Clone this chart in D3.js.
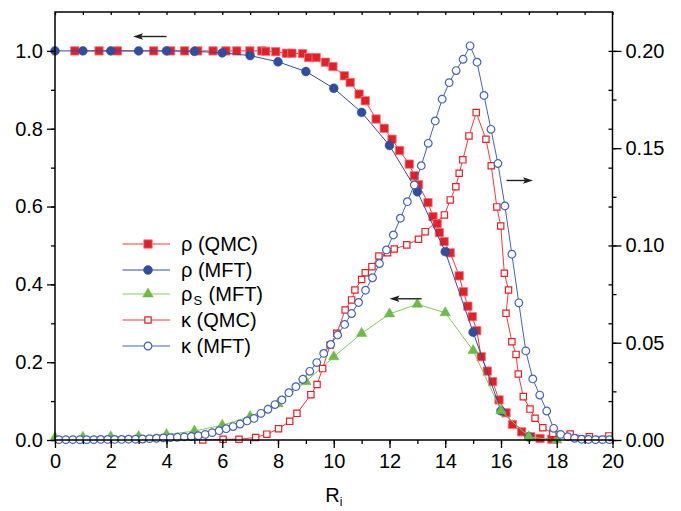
<!DOCTYPE html>
<html>
<head>
<meta charset="utf-8">
<script src="https://cdn.jsdelivr.net/npm/d3@7"></script>
<style>
  html, body { margin: 0; padding: 0; background: #fff; }
  svg { display: block; font-family: "Liberation Sans", Arial, sans-serif; }
</style>
</head>
<body>
<svg id="chart" width="681" height="511"></svg>
<script>
// ---- data -------------------------------------------------------------
// density from QMC (left axis)
const rhoQmcR = [0.71, 1.58, 2.24, 3.54, 4.15, 4.65, 5.12, 5.67, 6.13, 6.52, 6.99, 7.42, 7.56, 7.92,
  8.3, 8.5, 8.88, 9.1, 9.37, 9.7, 9.97, 10.38, 10.59, 10.91, 11.13, 11.52, 11.81, 12.09, 12.36,
  12.71, 12.89, 13.04, 13.38, 13.56, 13.71, 13.79, 13.96, 14.18, 14.5, 14.65, 14.81, 14.97, 15.13,
  15.29, 15.51, 15.7, 15.93, 16.18, 16.41, 16.74, 17.07, 17.4, 17.82];
const rhoQmc = [1.0, 1.0, 1.0, 1.0, 1.0, 1.0, 1.0, 1.0, 1.0, 1.0, 1.0, 1.0, 0.999, 0.998,
  0.994, 0.994, 0.993, 0.983, 0.983, 0.971, 0.96, 0.936, 0.919, 0.889, 0.872, 0.825, 0.801, 0.773, 0.744,
  0.709, 0.679, 0.656, 0.61, 0.574, 0.556, 0.533, 0.51, 0.481, 0.422, 0.381, 0.344, 0.317, 0.281,
  0.214, 0.177, 0.15, 0.103, 0.07, 0.04, 0.021, 0.0085, 0.004, 0.002];

// density from mean-field theory (left axis)
const rhoMftR = [0, 1, 2, 3, 4, 5, 6, 7, 8, 9, 10, 11, 12, 13, 14, 15, 16, 17];
const rhoMft = [1.0, 1.0, 1.0, 1.0, 1.0, 0.999, 0.995, 0.988, 0.972, 0.947, 0.904, 0.842,
  0.757, 0.638, 0.484, 0.277, 0.075, 0.008];

// superfluid density from mean-field theory (left axis)
const rhoSMftR = [0, 1, 2, 3, 4, 5, 6, 7, 8, 9, 10, 11, 12, 13, 14, 15, 16, 17, 18];
const rhoSMft = [0.006, 0.007, 0.008, 0.009, 0.014, 0.023, 0.038, 0.06, 0.093, 0.15, 0.214,
  0.274, 0.324, 0.349, 0.327, 0.23, 0.075, 0.008, 0.0];

// compressibility from QMC (right axis)
const kappaQmcR = [5.3, 6.03, 6.6, 7.2, 7.6, 8.02, 8.42, 8.68, 9.18, 9.4, 9.6, 9.87, 10.11, 10.41,
  10.64, 10.76, 11.0, 11.13, 11.37, 11.62, 11.93, 12.17, 12.62, 13.04, 13.28, 13.97, 14.18, 14.38,
  14.5, 14.63, 14.85, 15.11, 15.46, 15.65, 15.85, 15.99, 16.12, 16.27, 16.18, 16.39, 16.54, 16.62,
  16.8, 17.04, 17.22, 17.5, 17.86, 18.48, 19.17, 19.87];
const kappaQmc = [0.0, 0.0004, 0.0004, 0.0013, 0.003, 0.0058, 0.0096, 0.0137, 0.0233, 0.0285,
  0.0367, 0.0488, 0.0549, 0.0668, 0.072, 0.0771, 0.0825, 0.086, 0.0891, 0.0946, 0.0963, 0.0982,
  0.1003, 0.1032, 0.1071, 0.1157, 0.1234, 0.1302, 0.1371, 0.144, 0.1563, 0.1683, 0.1546, 0.141,
  0.1198, 0.11, 0.0857, 0.0771, 0.0651, 0.0505, 0.044, 0.0339, 0.0223, 0.0159, 0.0112, 0.0063,
  0.0034, 0.0031, 0.0017, 0.0021];

// compressibility from mean-field theory (right axis)
const kappaMftR = [0.14, 0.39, 0.64, 0.89, 1.14, 1.39, 1.64, 1.89, 2.14, 2.39, 2.64, 2.89, 3.14,
  3.39, 3.64, 3.89, 4.14, 4.39, 4.64, 4.89, 5.14, 5.39, 5.64, 5.89, 6.14, 6.39, 6.64, 6.89, 7.14,
  7.39, 7.64, 7.89, 8.14, 8.39, 8.64, 8.89, 9.14, 9.39, 9.64, 9.89, 10.14, 10.39, 10.64, 10.89,
  11.14, 11.39, 11.64, 11.89, 12.14, 12.39, 12.64, 12.89, 13.14, 13.39, 13.64, 13.89, 14.14, 14.39,
  14.64, 14.89, 15.14, 15.39, 15.64, 15.89, 16.14, 16.39, 16.64, 16.89, 17.14, 17.39, 17.64, 17.89,
  18.14, 18.39, 18.64, 18.89, 19.14, 19.39, 19.64, 19.89];
const kappaMft = [0.0002, 0.0002, 0.0002, 0.0002, 0.0002, 0.0002, 0.0003, 0.0003, 0.0003, 0.0003,
  0.0004, 0.0004, 0.0005, 0.0007, 0.0009, 0.0011, 0.0012, 0.0014, 0.0016, 0.0018, 0.0022, 0.0029,
  0.0038, 0.0048, 0.0058, 0.0069, 0.0082, 0.0098, 0.0111, 0.0137, 0.0158, 0.0182, 0.0206, 0.0243,
  0.0274, 0.0312, 0.0353, 0.0398, 0.0445, 0.0491, 0.054, 0.0594, 0.065, 0.0707, 0.077, 0.0834,
  0.0907, 0.0977, 0.1054, 0.114, 0.1225, 0.1311, 0.141, 0.1525, 0.164, 0.1752, 0.1837, 0.1899,
  0.1957, 0.2026, 0.1942, 0.1771, 0.1597, 0.1421, 0.1203, 0.0955, 0.0705, 0.0458, 0.0314, 0.0231,
  0.0149, 0.006, 0.0029, 0.0017, 0.0009, 0.0004, 0.0003, 0.0002, 0.0002, 0.0002];

// axis ticks
const xMajorTicks = [0, 2, 4, 6, 8, 10, 12, 14, 16, 18, 20];
const yLeftTicks = [0.0, 0.2, 0.4, 0.6, 0.8, 1.0];
const yRightTicks = [0.00, 0.05, 0.10, 0.15, 0.20];

// ---- layout -----------------------------------------------------------
const svg = d3.select("#chart");
const plot = { left: 55, right: 612.5, top: 12, bottom: 440 };

const x = d3.scaleLinear().domain([0, 20]).range([plot.left, plot.right]);
const yL = d3.scaleLinear().domain([0, 1.1]).range([plot.bottom, plot.top]);
const yR = d3.scaleLinear().domain([0, 0.22]).range([plot.bottom, plot.top]);

const RED = "#e61f27";
const RED_LINE = "#ee3a40";
const BLUE = "#2f4e9f";
const BLUE_LINE = "#4462b0";
const GREEN = "#6cbb46";
const GREEN_LINE = "#86c866";

function zip(rs, vs) { return rs.map((r, i) => ({ r, v: vs[i] })); }

const series = [
  { key: "rhoQmc", data: zip(rhoQmcR, rhoQmc), y: yL, line: RED_LINE, shape: d3.symbolSquare, size: 70, fill: RED, stroke: "#e87a80", sw: 0.8 },
  { key: "rhoMft", data: zip(rhoMftR, rhoMft), y: yL, line: BLUE, shape: d3.symbolCircle, size: 62, fill: BLUE, stroke: BLUE, sw: 0.5 },
  { key: "rhoSMft", data: zip(rhoSMftR, rhoSMft), y: yL, line: GREEN_LINE, shape: d3.symbolTriangle, size: 48, fill: GREEN, stroke: GREEN, sw: 0.5 },
  { key: "kappaQmc", data: zip(kappaQmcR, kappaQmc), y: yR, line: RED_LINE, shape: d3.symbolSquare, size: 40, fill: "#fff", stroke: RED, sw: 1.2 },
  { key: "kappaMft", data: zip(kappaMftR, kappaMft), y: yR, line: BLUE_LINE, shape: d3.symbolCircle, size: 46, fill: "#fff", stroke: BLUE_LINE, sw: 1.2 }
];

// ---- series -----------------------------------------------------------
const gData = svg.append("g");
series.forEach(s => {
  const g = gData.append("g").attr("class", s.key);
  g.append("path")
    .datum(s.data)
    .attr("fill", "none")
    .attr("stroke", s.line)
    .attr("stroke-width", 1)
    .attr("d", d3.line().x(d => x(d.r)).y(d => s.y(d.v)));
  g.selectAll("path.mk")
    .data(s.data)
    .join("path")
    .attr("class", "mk")
    .attr("transform", d => `translate(${x(d.r)},${s.y(d.v)})`)
    .attr("d", d3.symbol().type(s.shape).size(s.size)())
    .attr("fill", s.fill)
    .attr("stroke", s.stroke)
    .attr("stroke-width", s.sw);
});

// ---- axes -------------------------------------------------------------
const axisFont = 20;
function styleAxis(g) {
  g.select(".domain").remove();
  g.selectAll("line").attr("stroke", "#000").attr("stroke-width", 1.3);
  g.selectAll("text").attr("fill", "#000").style("font-size", axisFont + "px")
    .style("font-family", "'Liberation Sans', Arial, sans-serif");
}

const minorX = d3.range(0, 21, 1);
// bottom
svg.append("g").attr("transform", `translate(0,${plot.bottom})`)
  .call(d3.axisBottom(x).tickValues(minorX).tickSize(4).tickFormat(""))
  .call(styleAxis);
svg.append("g").attr("transform", `translate(0,${plot.bottom})`)
  .call(d3.axisBottom(x).tickValues(xMajorTicks).tickSize(8).tickPadding(6).tickFormat(d3.format("d")))
  .call(styleAxis);
// top (inward ticks)
svg.append("g").attr("transform", `translate(0,${plot.top})`)
  .call(d3.axisBottom(x).tickValues(minorX).tickSize(3).tickFormat(""))
  .call(styleAxis);

// left
const minorYL = d3.range(0, 1.05, 0.1);
svg.append("g").attr("transform", `translate(${plot.left},0)`)
  .call(d3.axisLeft(yL).tickValues(minorYL).tickSize(4).tickFormat(""))
  .call(styleAxis);
svg.append("g").attr("transform", `translate(${plot.left},0)`)
  .call(d3.axisLeft(yL).tickValues(yLeftTicks).tickSize(8).tickPadding(4).tickFormat(d3.format(".1f")))
  .call(styleAxis);

// right
const minorYR = d3.range(0, 0.2126, 0.025);
svg.append("g").attr("transform", `translate(${plot.right},0)`)
  .call(d3.axisRight(yR).tickValues(minorYR).tickSize(4).tickFormat(""))
  .call(styleAxis);
svg.append("g").attr("transform", `translate(${plot.right},0)`)
  .call(d3.axisRight(yR).tickValues(yRightTicks).tickSize(9).tickPadding(4).tickFormat(d3.format(".2f")))
  .call(styleAxis);
// left-scale ticks mirrored inward on the right edge
svg.append("g").attr("transform", `translate(${plot.right},0)`)
  .call(d3.axisLeft(yL).tickValues(minorYL).tickSize(4).tickFormat(""))
  .call(styleAxis);

// frame
svg.append("rect")
  .attr("x", plot.left).attr("y", plot.top)
  .attr("width", plot.right - plot.left).attr("height", plot.bottom - plot.top)
  .attr("fill", "none").attr("stroke", "#000").attr("stroke-width", 1.5);

// x-axis title R_i
const xt = svg.append("text")
  .attr("x", x(10)).attr("y", 502)
  .attr("text-anchor", "middle")
  .style("font-size", "20px").attr("fill", "#000");
xt.append("tspan").text("R");
xt.append("tspan").attr("dy", 4).style("font-size", "12px").text("i");

// ---- arrows pointing to the axis each curve belongs to ----------------
const arrows = [
  { from: [4.0, 1.037], to: [2.8, 1.037] },
  { from: [13.15, 0.363], to: [12.0, 0.363] },
  { from: [16.2, 0.667], to: [17.15, 0.667] }
];
arrows.forEach(a => {
  const x1 = x(a.from[0]), y1 = yL(a.from[1]);
  const x2 = x(a.to[0]), y2 = yL(a.to[1]);
  const dir = Math.sign(x2 - x1);
  svg.append("line")
    .attr("x1", x1).attr("y1", y1).attr("x2", x2 - dir * 8).attr("y2", y2)
    .attr("stroke", "#222").attr("stroke-width", 1.4);
  svg.append("path")
    .attr("d", `M${x2},${y2} L${x2 - dir * 10},${y2 - 3.2} L${x2 - dir * 8},${y2} L${x2 - dir * 10},${y2 + 3.2} Z`)
    .attr("fill", "#222");
});

// ---- legend -----------------------------------------------------------
const legendItems = [
  { s: series[0], label: "ρ (QMC)" },
  { s: series[1], label: "ρ (MFT)" },
  { s: series[2], label: "ρ", sub: "S", rest: " (MFT)" },
  { s: series[3], label: "κ (QMC)" },
  { s: series[4], label: "κ (MFT)" }
];
const legendY = [244, 270, 294, 320, 346];
const lg = svg.append("g");
legendItems.forEach((it, i) => {
  const yy = legendY[i];
  const g = lg.append("g").attr("transform", `translate(0,${yy})`);
  g.append("line").attr("x1", 122.5).attr("x2", 170).attr("y1", 0).attr("y2", 0)
    .attr("stroke", it.s.line).attr("stroke-width", 1);
  g.append("path").attr("transform", "translate(148,0)")
    .attr("d", d3.symbol().type(it.s.shape).size(it.s.size)())
    .attr("fill", it.s.fill).attr("stroke", it.s.stroke).attr("stroke-width", it.s.sw);
  const t = g.append("text").attr("x", 181).attr("y", 7).style("font-size", "20px").attr("fill", "#000");
  if (it.sub) {
    t.append("tspan").text(it.label);
    t.append("tspan").attr("dx", 1).attr("dy", 4).style("font-size", "13px").text(it.sub);
    t.append("tspan").attr("dx", 1).attr("dy", -4).text(it.rest);
  } else {
    t.text(it.label);
  }
});
</script>
</body>
</html>
